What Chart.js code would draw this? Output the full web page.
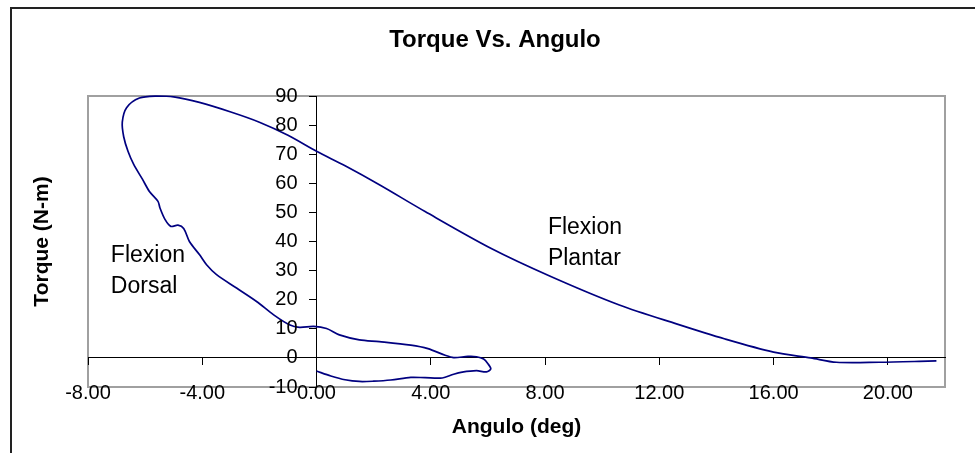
<!DOCTYPE html>
<html>
<head>
<meta charset="utf-8">
<script src="https://cdn.jsdelivr.net/npm/chart.js@4.4.1/dist/chart.umd.min.js"></script>
<style>
  html, body { margin: 0; padding: 0; background: #fff; }
  #wrap { width: 975px; height: 453px; }
</style>
</head>
<body>
<div id="wrap"><canvas id="torqueChart" width="975" height="453"></canvas></div>
<script>
// datos (angulo en grados, torque en N-m)
const angulo = [
  0, 0.5, 1.0, 1.5, 2.0, 2.6, 3.3, 3.8, 4.4, 4.8, 5.1, 5.6, 5.95, 6.1, 6.0, 5.85,
  5.6, 5.3, 4.8, 4.5, 3.9, 3.3, 2.2, 1.5, 0.8, 0.35, -0.1, -0.6, -0.95, -1.5, -2.1,
  -2.8, -3.5, -3.85, -4.1, -4.45, -4.65, -4.85, -5.1, -5.3, -5.48, -5.55, -5.85,
  -6.1, -6.4, -6.6, -6.75, -6.8, -6.65, -6.2, -5.6, -5.0, -4.1, -3.0, -2.0, -1.0,
  0, 1.0, 2.2, 3.8, 6.1, 8.2, 10.6, 12.6, 14.3, 16.0, 17.3, 18.2, 19.7, 21.1, 21.7
];
const torque = [
  -4.5, -6.2, -7.5, -8.1, -8.0, -7.6, -6.7, -6.8, -6.9, -5.6, -4.9, -4.4, -4.8, -3.8, -2.0, -0.4,
  0.4, 0.5, 0.1, 0.9, 3.2, 4.4, 5.6, 6.2, 7.9, 10.1, 10.8, 10.5, 11.4, 14.8, 19.4,
  24.0, 28.6, 32.0, 35.5, 40.0, 44.5, 45.6, 45.2, 47.5, 51.5, 53.8, 57.2,
  61.5, 66.5, 71, 76, 81, 86, 89.3, 90, 89.7, 87.8, 84.5, 81, 76.5,
  71, 66, 59.5, 50.3, 37.7, 28.0, 18.2, 11.7, 6.5, 2.0, 0, -1.5, -1.5, -1.2, -1.0
];
const xTicks = [-8, -4, 0, 4, 8, 12, 16, 20];
const yTicks = [-10, 0, 10, 20, 30, 40, 50, 60, 70, 80, 90];

const titulo = "Torque Vs. Angulo";
const tituloX = "Angulo (deg)";
const tituloY = "Torque (N-m)";
const notaDorsal = ["Flexion", "Dorsal"];
const notaPlantar = ["Flexion", "Plantar"];

const fuente = "'Liberation Sans', Arial, sans-serif";

// marco, borde del area de trazado y textos
const marco = {
  id: "marco",
  beforeDraw(chart) {
    const c = chart.ctx;
    const a = chart.chartArea;
    c.save();
    c.strokeStyle = "#222";
    c.lineWidth = 2;
    c.beginPath();
    c.moveTo(11, 453);
    c.lineTo(11, 8);
    c.lineTo(975, 8);
    c.stroke();
    c.strokeStyle = "#a0a0a0";
    c.lineWidth = 2;
    c.strokeRect(a.left, a.top, a.right - a.left, a.bottom - a.top);
    c.restore();
  },
  afterDraw(chart) {
    const c = chart.ctx;
    const a = chart.chartArea;
    const sx = chart.scales.x;
    const sy = chart.scales.y;
    c.save();
    c.fillStyle = "#000";
    c.textBaseline = "middle";

    // etiquetas del eje Y junto al eje en x = 0
    c.textAlign = "right";
    c.font = "20px " + fuente;
    const ejeY = sx.getPixelForValue(0);
    yTicks.forEach((v) => {
      c.fillText(String(v), ejeY - 19, sy.getPixelForValue(v));
    });

    c.textAlign = "center";
    c.font = "bold 24px " + fuente;
    c.fillText(titulo, 495, 40);
    c.font = "bold 21px " + fuente;
    c.fillText(tituloX, (a.left + a.right) / 2, 427);
    c.save();
    c.translate(42, (a.top + a.bottom) / 2);
    c.rotate(-Math.PI / 2);
    c.fillText(tituloY, 0, 0);
    c.restore();

    c.textAlign = "left";
    c.font = "23px " + fuente;
    const dx = sx.getPixelForValue(-7.2), dy = sy.getPixelForValue(35);
    c.fillText(notaDorsal[0], dx, dy);
    c.fillText(notaDorsal[1], dx, dy + 31);
    const px = sx.getPixelForValue(8.1), py = sy.getPixelForValue(44.8);
    c.fillText(notaPlantar[0], px, py);
    c.fillText(notaPlantar[1], px, py + 31);
    c.restore();
  }
};

const ctx = document.getElementById("torqueChart").getContext("2d");
new Chart(ctx, {
  type: "scatter",
  data: {
    datasets: [
      {
        data: angulo.map((a, i) => ({ x: a, y: torque[i] })),
        showLine: true,
        borderColor: "#000080",
        borderWidth: 1.7,
        pointRadius: 0,
        tension: 0.3,
        clip: 4,
      },
    ],
  },
  options: {
    responsive: false,
    animation: false,
    devicePixelRatio: 1,
    layout: { padding: { left: 88, top: 96, right: 30, bottom: 66 } },
    plugins: {
      legend: { display: false },
      tooltip: { enabled: false },
    },
    scales: {
      x: {
        type: "linear",
        position: { y: 0 },
        min: -8,
        max: 22,
        afterBuildTicks: (s) => { s.ticks = xTicks.map((v) => ({ value: v })); },
        ticks: {
          callback: (v) => v.toFixed(2),
          color: "#000",
          font: { family: fuente, size: 20 },
          padding: 17,
          maxRotation: 0,
          autoSkip: false,
        },
        grid: { drawOnChartArea: false, drawTicks: true, tickLength: 7, color: "#000" },
        border: { color: "#000", width: 1 },
      },
      y: {
        type: "linear",
        position: { x: 0 },
        min: -10,
        max: 90,
        afterBuildTicks: (s) => { s.ticks = yTicks.map((v) => ({ value: v })); },
        ticks: {
          // las etiquetas se dibujan en el plugin, a la izquierda de las marcas
          color: "rgba(0,0,0,0)",
          font: { family: fuente, size: 20 },
          autoSkip: false,
        },
        grid: { drawOnChartArea: false, drawTicks: true, tickLength: 7, color: "#000" },
        border: { color: "#000", width: 1 },
      },
    },
  },
  plugins: [marco],
});
</script>
</body>
</html>
